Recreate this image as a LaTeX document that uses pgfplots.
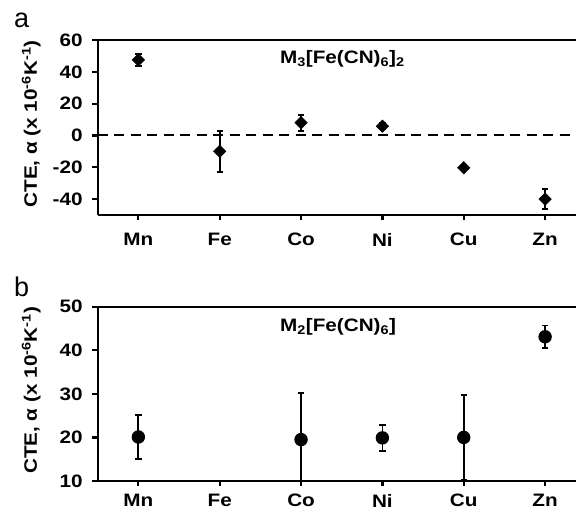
\documentclass[border=0pt]{standalone}
\usepackage{pgfplots}
\pgfplotsset{compat=1.18}
\usepackage{fontspec}
\setmainfont{Liberation Sans}[FakeStretch=1.15, BoldFeatures={FakeStretch=1.15}]
\newfontfamily\plainfont{Liberation Sans}
\newcommand{\lblfont}{\bfseries\fontsize{18}{19}\selectfont}
\pgfplotsset{
  panel/.style={
    scale only axis, width=478.3pt,
    xmin=0.5, xmax=6.38,
    axis x line=box, axis y line=left,
    axis line style={-, line width=2.2pt},
    xtick pos=bottom, ytick pos=left,
    tick align=outside, major tick length=5.5pt,
    every tick/.style={line width=2.2pt, black},
    xtick={1,2,3,4,5,6}, xticklabels={Mn,Fe,Co,Ni,Cu,Zn},
    ticklabel style={font=\lblfont},
    yticklabel style={xshift=-6pt},
    /pgf/number format/assume math mode=true,
    minor tick num=0,
    ylabel={CTE, α (x 10\textsuperscript{-6}K\textsuperscript{-1})},
    ylabel style={font=\lblfont, at={(axis description cs:-0.139,0.52)}, anchor=center},
    clip=true,
  },
  ebar/.style={
    black, line width=1.8pt, only marks,
    error bars/y dir=both, error bars/y explicit,
    error bars/error bar style={line width=1.8pt},
    error bars/error mark options={rotate=90, mark size=3.2pt, line width=1.8pt},
  },
}
\begin{document}
\begin{tikzpicture}
\useasboundingbox (0,0) rectangle (576pt,513pt);
% panel a
\begin{axis}[panel, height=175pt, at={(97.7pt,298pt)}, anchor=south west,
  xticklabel style={yshift=-9pt},
  ymin=-50, ymax=60, ytick={-40,-20,0,20,40,60}]
\addplot[black, line width=2pt, dash pattern=on 10pt off 6.5pt, forget plot] coordinates {(0.5,0) (6.38,0)};
\addplot[ebar, mark=square*, mark size=4.4pt, mark options={rotate=45, fill=black, line width=0.5pt}]
  table[x=x, y=y, y error=e] {
x y e
1 47.5 3.6
2 -10 12.8
3 8 5.1
4 5.8 1.8
5 -20.3 0
6 -40 6.4
};
\node[anchor=base west, font=\lblfont] at (axis description cs:0.374,0.867) {M\textsubscript{3}[Fe(CN)\textsubscript{6}]\textsubscript{2}};
\end{axis}
% panel b
\begin{axis}[panel, height=174.3pt, at={(97.7pt,32pt)}, anchor=south west,
  xticklabel style={yshift=-6.5pt, inner sep=1pt},
  ymin=10, ymax=50, ytick={10,20,30,40,50}]
\addplot[ebar, mark=*, mark size=5.8pt]
  table[x=x, y=y, y error=e] {
x y e
1 20.1 5.1
3 19.5 10.7
4 19.9 3.0
5 20.0 9.8
6 43.1 2.6
};
\node[anchor=base west, font=\lblfont] at (axis description cs:0.374,0.857) {M\textsubscript{2}[Fe(CN)\textsubscript{6}]};
\end{axis}
\node[anchor=base west, font=\plainfont\fontsize{27}{28}\selectfont, inner sep=0pt] at (14pt,485pt) {a};
\node[anchor=base west, font=\plainfont\fontsize{27}{28}\selectfont, inner sep=0pt] at (14pt,216.3pt) {b};
\end{tikzpicture}
\end{document}
